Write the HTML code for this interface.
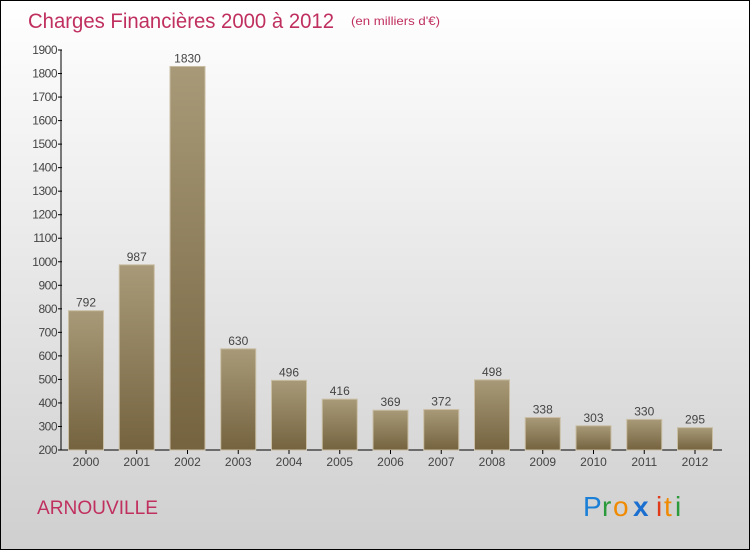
<!DOCTYPE html>
<html><head><meta charset="utf-8"><style>
body{margin:0}
#c{position:relative;width:748px;height:548px;border:1px solid #000;background:linear-gradient(#ffffff,#cfcfcf);font-family:"Liberation Sans",sans-serif;overflow:hidden}
</style></head><body>
<div id="c">
<svg id="s" width="748" height="548" xmlns="http://www.w3.org/2000/svg">
<defs><linearGradient id="g" x1="0" y1="0" x2="0" y2="1"><stop offset="0" stop-color="#a89a78"/><stop offset="1" stop-color="#75633f"/></linearGradient></defs>
<text x="27" y="27" font-size="21" fill="#c0305f" textLength="306" lengthAdjust="spacingAndGlyphs">Charges Financières 2000 à 2012</text>
<text x="350" y="24" font-size="12" fill="#c0305f" textLength="89" lengthAdjust="spacingAndGlyphs">(en milliers d'€)</text>
<text x="36" y="513" font-size="19" fill="#c0305f" textLength="121" lengthAdjust="spacingAndGlyphs">ARNOUVILLE</text>
<g font-size="28">
<text x="582" y="515" fill="#1a7fd6">P</text><text x="601" y="515" fill="#2a9a3a">r</text><text x="612" y="515" fill="#f08a00">o</text><text x="632" y="515" fill="#1a6fd0" font-weight="bold">x</text><text x="655" y="515" fill="#e03a1a">i</text><text x="663" y="515" fill="#f08a00">t</text><text x="674" y="515" fill="#2a9a3a">i</text>
</g>
<g id="plot"></g>
</svg>
</div>
<script>
const categories=["2000","2001","2002","2003","2004","2005","2006","2007","2008","2009","2010","2011","2012"];
const values=[792,987,1830,630,496,416,369,372,498,338,303,330,295];
const yTicks=[200,300,400,500,600,700,800,900,1000,1100,1200,1300,1400,1500,1600,1700,1800,1900];
const NS="http://www.w3.org/2000/svg";
const plot=document.getElementById('plot');
const y=v=>449-(v-200)*(400/1700);
const x=i=>85+i*50.75;
function mk(t,a,txt){const e=document.createElementNS(NS,t);for(const k in a)e.setAttribute(k,a[k]);if(txt!==undefined)e.textContent=txt;plot.appendChild(e);return e;}
let ax=mk('line',{x1:60,y1:49,x2:60,y2:449,stroke:'#000'});


let xa=mk('line',{x1:60,y1:449,x2:721,y2:449,stroke:'#000'});


yTicks.forEach(v=>{
 let t=mk('line',{x1:57,y1:y(v),x2:61,y2:y(v),stroke:'#000'});
 
 
 let l=mk('text',{x:56,y:y(v)+4,'font-size':12,fill:'#444','text-anchor':'end','letter-spacing':'-0.5'},v);
 
 
});
categories.forEach((c,i)=>{
 const cx=x(i),w=35;
 let b=mk('rect',{x:cx-w/2,y:y(values[i]),width:w,height:449-y(values[i]),fill:'url(#g)',stroke:'#c9bea4','stroke-width':1});
 
 
 let v=mk('text',{x:cx,y:y(values[i])-4,'font-size':12,fill:'#444','text-anchor':'middle'},values[i]);
 
 
 let t=mk('line',{x1:cx,y1:449,x2:cx,y2:453,stroke:'#000'});
 
 
 let l=mk('text',{x:cx,y:465,'font-size':12,fill:'#444','text-anchor':'middle'},c);
 
 
});
</script>
</body></html>
